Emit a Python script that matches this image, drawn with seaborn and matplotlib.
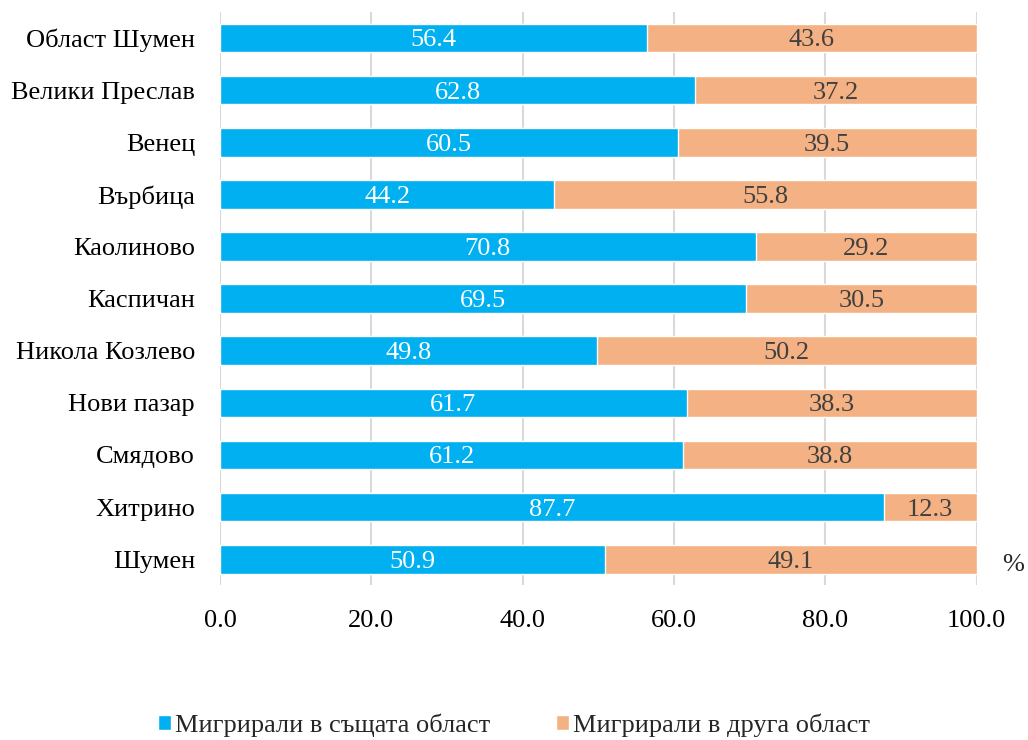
import pandas as pd
import numpy as np
import seaborn as sns
import matplotlib.pyplot as plt

sns.set_theme(style='white')
plt.rcParams['font.family'] = ['Liberation Serif', 'DejaVu Serif']

# Data
areas = ["Област Шумен", "Велики Преслав", "Венец", "Върбица", "Каолиново",
         "Каспичан", "Никола Козлево", "Нови пазар", "Смядово", "Хитрино", "Шумен"]
same_region = [56.4, 62.8, 60.5, 44.2, 70.8, 69.5, 49.8, 61.7, 61.2, 87.7, 50.9]
other_region = [43.6, 37.2, 39.5, 55.8, 29.2, 30.5, 50.2, 38.3, 38.8, 12.3, 49.1]
series_names = ["Мигрирали в същата област", "Мигрирали в друга област"]

blue = '#00B0F0'
orange = '#F4B183'
fs = 19

df = pd.DataFrame({'area': areas, 'same': same_region, 'other': other_region})
df['total'] = df['same'] + df['other']

fig = plt.figure(figsize=(10.28, 7.4), dpi=100)
ax = fig.add_axes([0.214, 0.209, 0.736, 0.775])

# Stacked: draw totals in orange first, then blue over it
sns.barplot(data=df, y='area', x='total', color=orange, orient='h', width=0.55,
            edgecolor='white', linewidth=1, saturation=1, ax=ax, label=series_names[1])
sns.barplot(data=df, y='area', x='same', color=blue, orient='h', width=0.55,
            edgecolor='white', linewidth=1, saturation=1, ax=ax, label=series_names[0])

# Value labels
for i, row in df.iterrows():
    ax.text(row['same'] / 2, i, f"{row['same']:.1f}", ha='center', va='center_baseline',
            color='white', fontsize=fs)
    ax.text(row['same'] + row['other'] / 2, i, f"{row['other']:.1f}", ha='center',
            va='center_baseline', color='#404040', fontsize=fs)

ax.set_xlim(0, 100)
ax.set_ylim(len(areas) - 0.5, -0.5)
ax.set_xticks(np.arange(0, 101, 20))
ax.set_xticklabels([f"{v:.1f}" for v in np.arange(0, 101, 20)])
ax.xaxis.grid(True, color='#D9D9D9', linewidth=1.5)
ax.set_axisbelow(True)
for s in ax.spines.values():
    s.set_visible(False)
ax.set_xlabel('')
ax.set_ylabel('')
ax.tick_params(axis='x', labelsize=fs, colors='black', pad=18, length=0)
ax.tick_params(axis='y', labelsize=fs, colors='black', pad=18, length=0)

fig.text(0.985, 0.237, '%', fontsize=fs, ha='center', va='center')

# Legend
handles, labels = ax.get_legend_handles_labels()
order = [labels.index(n) for n in series_names]
ax.legend([handles[k] for k in order], [labels[k] for k in order],
          loc='center', bbox_to_anchor=(0.5, 0.02), bbox_transform=fig.transFigure,
          ncol=2, frameon=False, fontsize=fs, handlelength=0.5, handleheight=0.5,
          handletextpad=0.15, columnspacing=2.5)

fig.savefig('out.png', dpi=100)
